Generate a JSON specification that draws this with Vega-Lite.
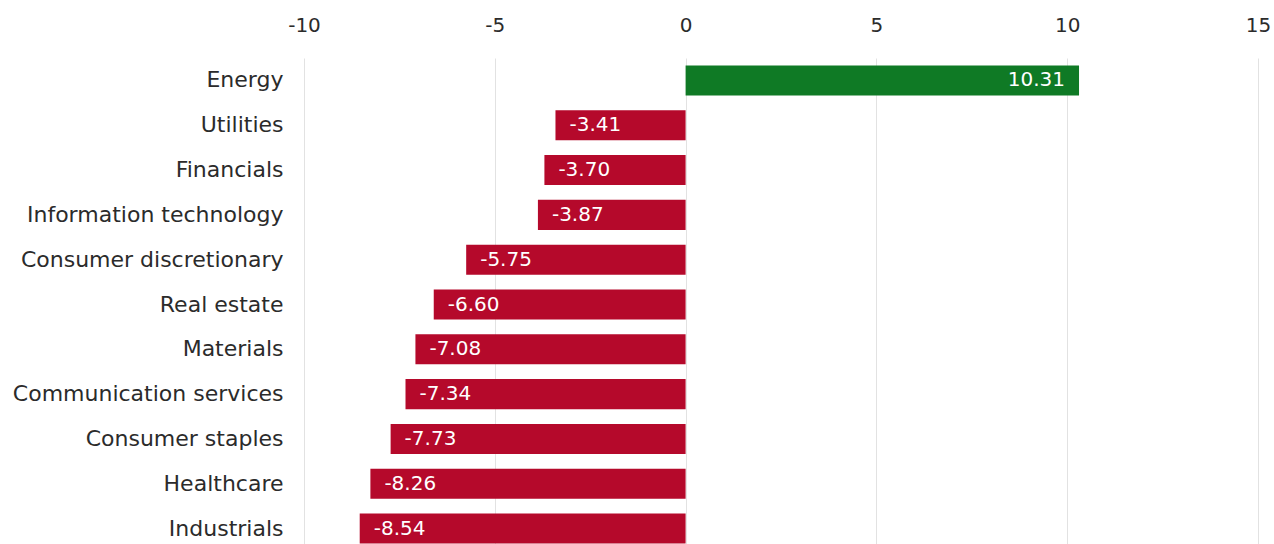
{
  "$schema": "https://vega.github.io/schema/vega-lite/v6.json",
  "width": 954,
  "height": 493,
  "autosize": {"type": "none"},
  "padding": {"left": 304, "top": 58, "right": 16, "bottom": 0},
  "background": "white",
  "config": {
    "view": {"stroke": null},
    "font": "DejaVu Sans",
    "locale": {"number": {"decimal": ".", "thousands": ",", "grouping": [3], "currency": ["$", ""], "minus": "-"}}
  },
  "data": {
    "values": [
      {"sector": "Energy", "value": 10.31},
      {"sector": "Utilities", "value": -3.41},
      {"sector": "Financials", "value": -3.70},
      {"sector": "Information technology", "value": -3.87},
      {"sector": "Consumer discretionary", "value": -5.75},
      {"sector": "Real estate", "value": -6.60},
      {"sector": "Materials", "value": -7.08},
      {"sector": "Communication services", "value": -7.34},
      {"sector": "Consumer staples", "value": -7.73},
      {"sector": "Healthcare", "value": -8.26},
      {"sector": "Industrials", "value": -8.54}
    ]
  },
  "encoding": {
    "y": {
      "field": "sector",
      "type": "nominal",
      "sort": null,
      "scale": {"paddingInner": 0.33, "paddingOuter": 0.165},
      "axis": {
        "title": null,
        "domain": false,
        "ticks": false,
        "labelPadding": 21,
        "labelFontSize": 22,
        "labelLimit": 0,
        "labelColor": "#2b2b2b",
        "labelFont": "DejaVu Sans",
        "labelFontWeight": "normal"
      }
    }
  },
  "layer": [
    {
      "mark": {"type": "bar"},
      "encoding": {
        "x": {
          "field": "value",
          "type": "quantitative",
          "scale": {"domain": [-10, 15], "nice": false},
          "axis": {
            "orient": "top",
            "title": null,
            "values": [-10, -5, 0, 5, 10, 15],
            "domain": false,
            "ticks": false,
            "labelPadding": 23,
            "labelFontSize": 20,
            "labelFont": "DejaVu Sans",
            "labelColor": "#2b2b2b",
            "labelFontWeight": "normal",
            "grid": true,
            "gridColor": "#e2e2e2",
            "gridWidth": 1,
            "labelFlush": false
          }
        },
        "color": {
          "condition": {"test": "datum.value > 0", "value": "#0f7a25"},
          "value": "#b5092b"
        }
      }
    },
    {
      "transform": [{"filter": "datum.value < 0"}],
      "mark": {"type": "text", "align": "left", "dx": 14, "fontSize": 20, "font": "DejaVu Sans", "color": "white", "baseline": "middle", "fontWeight": "normal"},
      "encoding": {
        "x": {"field": "value", "type": "quantitative"},
        "text": {"field": "value", "type": "quantitative", "format": ".2f"}
      }
    },
    {
      "transform": [{"filter": "datum.value > 0"}],
      "mark": {"type": "text", "align": "right", "dx": -14, "fontSize": 20, "font": "DejaVu Sans", "color": "white", "baseline": "middle", "fontWeight": "normal"},
      "encoding": {
        "x": {"field": "value", "type": "quantitative"},
        "text": {"field": "value", "type": "quantitative", "format": ".2f"}
      }
    }
  ]
}
